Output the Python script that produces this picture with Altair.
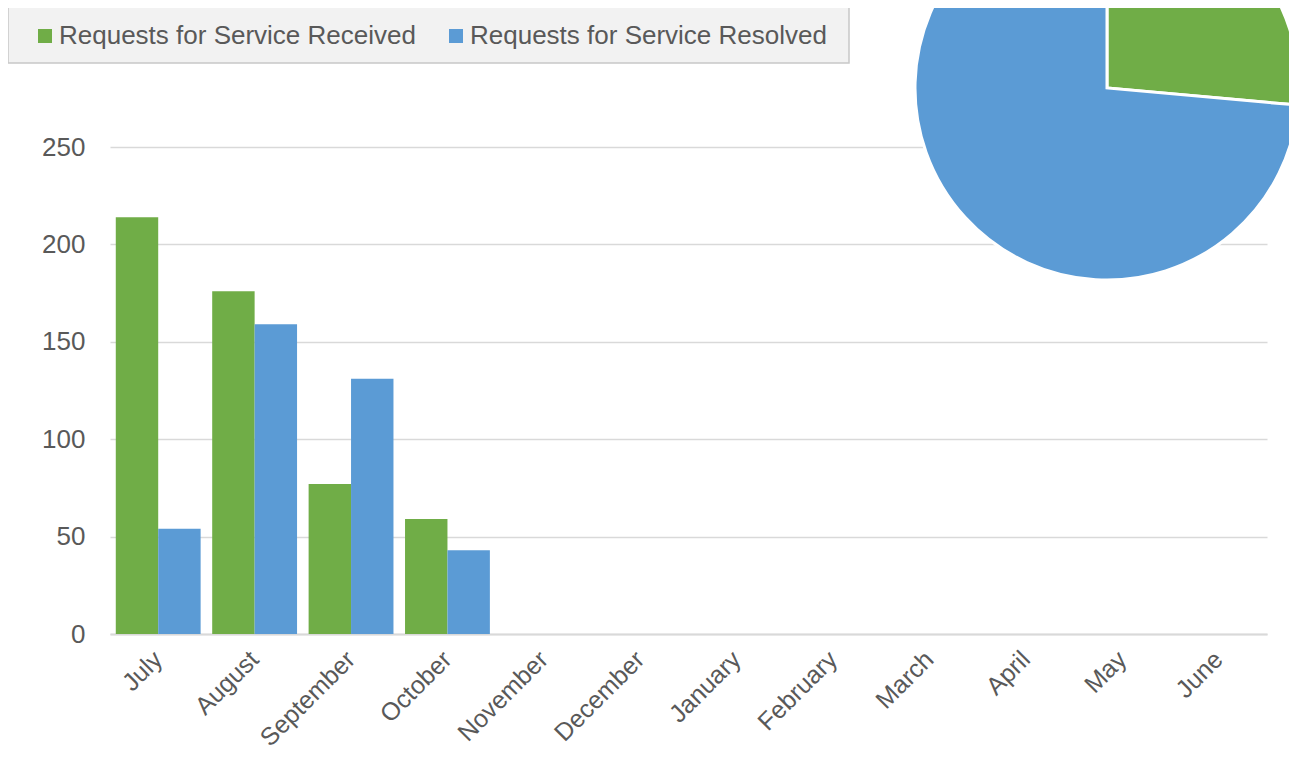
import altair as alt
import pandas as pd

months = ["July", "August", "September", "October", "November", "December",
          "January", "February", "March", "April", "May", "June"]
series = ["Requests for Service Received", "Requests for Service Resolved"]
received = [214, 176, 77, 59, None, None, None, None, None, None, None, None]
resolved = [54, 159, 131, 43, None, None, None, None, None, None, None, None]

pie_labels = ["Open", "Resolved"]
pie_values = [139, 387]

GREEN = "#70ad47"
BLUE = "#5b9bd5"
TEXT = "#595959"
FONT = "Liberation Sans"

rows = []
for m, a, b in zip(months, received, resolved):
    rows.append({"month": m, "series": series[0], "value": a})
    rows.append({"month": m, "series": series[1], "value": b})
df = pd.DataFrame(rows)

pie_df = pd.DataFrame({"label": pie_labels, "value": pie_values, "order": list(range(len(pie_labels)))})

bars = alt.Chart(df).transform_filter("isValid(datum.value)").mark_bar().encode(
    x=alt.X("month:N", sort=months,
            scale=alt.Scale(domain=months, paddingInner=0.12, paddingOuter=0.06),
            axis=alt.Axis(title=None, labelAngle=-45, labelFontSize=25, labelColor=TEXT,
                          labelFont=FONT, ticks=False, domainColor="#d9d9d9",
                          domainWidth=2, labelPadding=21, labelAlign="right",
                          labelBaseline="middle", grid=False)),
    xOffset=alt.XOffset("series:N", sort=series,
                        scale=alt.Scale(domain=series, paddingInner=0, paddingOuter=0)),
    y=alt.Y("value:Q", scale=alt.Scale(domain=[0, 250], nice=False),
            axis=alt.Axis(title=None, values=[0, 50, 100, 150, 200, 250],
                          labelFontSize=26, labelColor=TEXT, labelFont=FONT,
                          ticks=False, domain=False, gridColor="#d9d9d9",
                          gridWidth=1.5, labelPadding=25)),
    color=alt.Color("series:N", sort=series,
                    scale=alt.Scale(domain=series, range=[GREEN, BLUE]),
                    legend=alt.Legend(title=None, orient="none", legendX=-78, legendY=-124,
                                      direction="horizontal", symbolType="square",
                                      symbolSize=196, symbolStrokeWidth=0,
                                      labelFontSize=26, labelColor=TEXT, labelFont=FONT,
                                      labelOffset=1, columnPadding=27, padding=0,
                                      labelLimit=0)),
)

legend_box = alt.Chart(pd.DataFrame({"k": [0]})).mark_rect(
    fill="#f2f2f2", stroke="#c8c8c8", strokeWidth=1.5
).encode(
    x=alt.value(-102), x2=alt.value(739), y=alt.value(-141), y2=alt.value(-84)
)

pie = alt.Chart(pie_df).mark_arc(radius=192, stroke="white", strokeWidth=3).encode(
    theta=alt.Theta("value:Q", stack=True),
    order=alt.Order("order:Q"),
    color=alt.Color("label:N", scale=alt.Scale(domain=pie_labels, range=[GREEN, BLUE]),
                    legend=None),
    x=alt.value(997),
    y=alt.value(-59),
)

chart = alt.layer(legend_box, bars, pie).resolve_scale(color="independent").properties(
    width=1157, height=487,
    autosize=alt.AutoSizeParams(type="none"),
    padding={"left": 102, "top": 139, "right": 22, "bottom": 120},
    background="white",
).configure_view(stroke=None)

chart.save("out.html", embed_options={"renderer": "svg", "actions": False})
